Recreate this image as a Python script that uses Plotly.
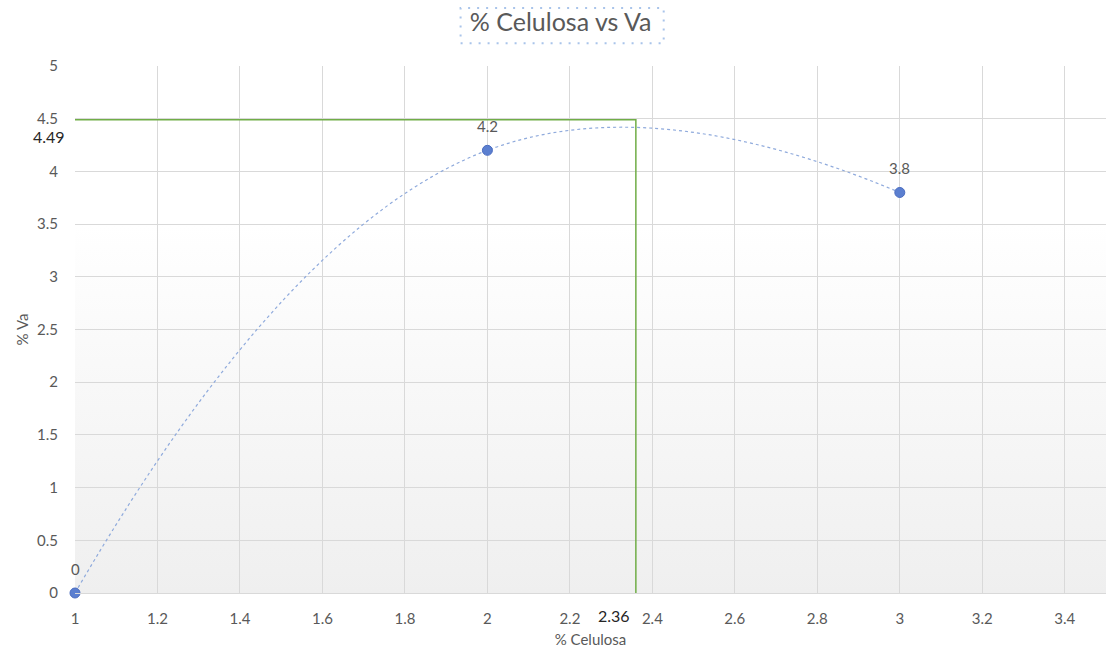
import base64
import plotly.graph_objects as go

# Measured data
celulosa = [1, 2, 3]
va = [0, 4.2, 3.8]
point_labels = ["0", "4.2", "3.8"]

# Reading of the curve maximum
peak_x = 2.36
peak_y = 4.49

x_ticks = [1, 1.2, 1.4, 1.6, 1.8, 2, 2.2, 2.4, 2.6, 2.8, 3, 3.2, 3.4]
y_ticks = [0, 0.5, 1, 1.5, 2, 2.5, 3, 3.5, 4, 4.5, 5]

GRID = "#d9d9d9"
TEXT = "#595959"
FONT = "Lato, 'Open Sans', sans-serif"

# Soft vertical gradient for the plot area background
svg = (
    '<svg xmlns="http://www.w3.org/2000/svg" width="100" height="100" preserveAspectRatio="none">'
    '<defs><linearGradient id="g" x1="0" y1="0" x2="0" y2="1">'
    '<stop offset="0" stop-color="#ffffff"/>'
    '<stop offset="0.3" stop-color="#ffffff"/>'
    '<stop offset="1" stop-color="#efefef"/>'
    '</linearGradient></defs>'
    '<rect width="100" height="100" fill="url(#g)"/></svg>'
)
bg_uri = "data:image/svg+xml;base64," + base64.b64encode(svg.encode()).decode()

fig = go.Figure()

# Guide lines marking the maximum
fig.add_trace(go.Scatter(
    x=[celulosa[0], peak_x, peak_x],
    y=[peak_y, peak_y, 0],
    mode="lines",
    line=dict(color="#70ad47", width=1.5),
    hoverinfo="skip",
    showlegend=False,
))

# Smoothed series with markers
fig.add_trace(go.Scatter(
    x=celulosa,
    y=va,
    mode="lines+markers",
    line=dict(color="#8faadc", width=1.2, dash="dot", shape="spline", smoothing=1.3),
    marker=dict(size=10, color="#5b7fd0", line=dict(color="#4a6cc0", width=1)),
    cliponaxis=False,
    showlegend=False,
))

# Value labels above each point
annotations = [
    dict(
        text=lab, x=xv, y=yv, xref="x", yref="y",
        yshift=24, showarrow=False,
        font=dict(family=FONT, size=15, color=TEXT),
    )
    for xv, yv, lab in zip(celulosa, va, point_labels)
]

# Labels for the maximum
annotations += [
    dict(
        text=f"{peak_y:g}", xref="paper", yref="y",
        x=-0.008, y=peak_y, xanchor="right", yanchor="top", yshift=-5,
        showarrow=False, font=dict(family=FONT, size=16, color="#262626"),
    ),
    dict(
        text=f"{peak_x:g}", xref="x", yref="paper",
        x=peak_x, y=0, xanchor="center", yanchor="top", xshift=-22, yshift=-11,
        showarrow=False, font=dict(family=FONT, size=16, color="#262626"),
    ),
]

fig.update_layout(
    width=1108,
    height=657,
    margin=dict(l=75, r=2, t=66, b=64),
    paper_bgcolor="white",
    plot_bgcolor="rgba(0,0,0,0)",
    font=dict(family=FONT, color=TEXT),
    title=dict(
        text="% Celulosa vs Va",
        x=0.506, xref="container", xanchor="center",
        y=0.966, yref="container", yanchor="middle",
        font=dict(family=FONT, size=25, color=TEXT),
    ),
    images=[dict(
        source=bg_uri, xref="paper", yref="paper",
        x=0, y=1, sizex=1, sizey=1,
        xanchor="left", yanchor="top",
        sizing="stretch", layer="below",
    )],
    xaxis=dict(
        range=[1, 3.5],
        tickvals=x_ticks,
        ticktext=[f"{v:g}" for v in x_ticks],
        showgrid=True, gridcolor=GRID, gridwidth=1,
        zeroline=False,
        showline=True, linecolor=GRID, linewidth=1,
        ticks="", ticklabelstandoff=12,
        tickfont=dict(family=FONT, size=15, color=TEXT),
        title=dict(text="% Celulosa", font=dict(family=FONT, size=15, color=TEXT), standoff=8),
    ),
    yaxis=dict(
        range=[0, 5],
        tickvals=y_ticks,
        ticktext=[f"{v:g}" for v in y_ticks],
        showgrid=True, gridcolor=GRID, gridwidth=1,
        zeroline=False,
        showline=False,
        ticks="", ticklabelstandoff=16,
        tickfont=dict(family=FONT, size=15, color=TEXT),
        title=dict(text="% Va", font=dict(family=FONT, size=15, color=TEXT), standoff=4),
    ),
    shapes=[dict(
        type="rect", xref="paper", yref="paper",
        x0=0.374, x1=0.571, y0=1.043, y1=1.11,
        line=dict(color="#a9c4ea", width=2, dash="2px,7px"),
    )],
    annotations=annotations,
)

fig.write_html("out.html")
